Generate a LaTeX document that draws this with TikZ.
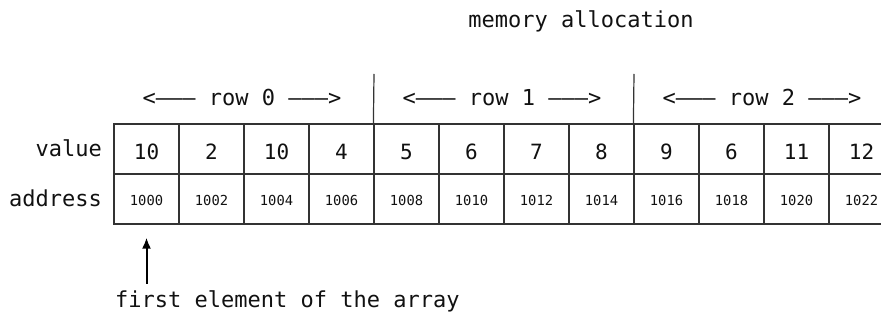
\documentclass[tikz,border=0pt]{standalone}
\usepackage{fontspec}
\setmainfont{DejaVu Sans Mono}
\usetikzlibrary{arrows.meta}
\definecolor{ln}{HTML}{333333}
\definecolor{tx}{HTML}{111111}
\tikzset{
  cell/.style={draw=ln, line width=1.2pt, minimum width=65pt, minimum height=50pt, inner sep=0pt, text=tx},
  valcell/.style={cell, font=\fontsize{21}{25}\selectfont, text height=22pt, text depth=0pt},
  addrcell/.style={cell, font=\fontsize{13.8}{16}\selectfont, text height=13.4pt, text depth=0pt},
  lbl/.style={font=\fontsize{22}{26}\selectfont, inner sep=0pt, text=tx},
  divider/.style={draw=ln, line width=1.2pt},
  pointer/.style={draw=black, line width=2pt, -{Latex[length=11pt,width=9pt]}}
}
\begin{document}
\begin{tikzpicture}[x=1pt,y=-1pt]
\useasboundingbox (0,0) rectangle (881,320);
\clip (0,0) rectangle (881,320);
\node[lbl, anchor=base] (title) at (581,28) {memory allocation};
\foreach \v [count=\i from 0] in {10,2,10,4,5,6,7,8,9,6,11,12} {
  \node[valcell] (v\i) at ({146.5+65*\i},149) {\v};
}
\foreach \a [count=\i from 0] in {1000,1002,1004,1006,1008,1010,1012,1014,1016,1018,1020,1022} {
  \node[addrcell] (a\i) at ({146.5+65*\i},199) {\a};
}
\node[lbl, anchor=base east] (vlab) at (102,157) {value};
\node[lbl, anchor=base east] (alab) at (102,207) {address};
\node[lbl, anchor=base] (r0) at (242,106) {<——— row 0 ———>};
\node[lbl, anchor=base] (r1) at (502,106) {<——— row 1 ———>};
\node[lbl, anchor=base] (r2) at (762,106) {<——— row 2 ———>};
\coordinate (d1) at (374,74);
\coordinate (d2) at (634,74);
\draw[divider] (d1) -- (v4.north west);
\draw[divider] (d2) -- (v8.north west);
\node[lbl, anchor=base west] (first) at (115,308) {first element of the array};
\draw[pointer] ([yshift=-59pt]a0.south) -- ([yshift=-13pt]a0.south);
\end{tikzpicture}
\end{document}
